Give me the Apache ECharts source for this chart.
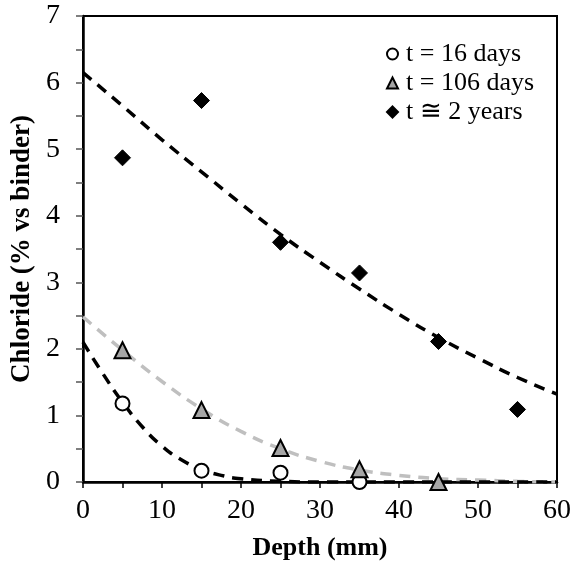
<!DOCTYPE html>
<html>
<head>
<meta charset="utf-8">
<script src="https://cdn.jsdelivr.net/npm/echarts@6/dist/echarts.min.js"></script>
<style>html,body{margin:0;padding:0;background:#fff}#c{width:573px;height:564px}</style>
</head>
<body>
<div id="c"></div>
<script>
// Measured points
const depth16 = [5, 15, 25, 35];
const chl16 = [1.18, 0.17, 0.14, 0.0];
const depth106 = [5, 15, 25, 35, 45];
const chl106 = [1.98, 1.08, 0.51, 0.19, 0.0];
const depth2y = [5, 15, 25, 35, 45, 55];
const chl2y = [4.87, 5.73, 3.6, 3.14, 2.11, 1.09];

// Trend curves
const fit16X = [0, 2.5, 5, 7.5, 10, 12.5, 15, 17.5, 20, 25, 30, 40, 50, 60];
const fit16Y = [2.1, 1.63, 1.2, 0.83, 0.54, 0.33, 0.19, 0.1, 0.05, 0.01, 0.0, 0.0, 0.0, 0.0];
const fit106X = [0, 5, 10, 15, 20, 25, 30, 35, 40, 45, 50, 55, 60];
const fit106Y = [2.48, 1.98, 1.51, 1.1, 0.76, 0.5, 0.31, 0.18, 0.1, 0.05, 0.03, 0.01, 0.0];
const fit2yX = [0, 5, 10, 15, 20, 25, 30, 35, 40, 45, 50, 55, 60];
const fit2yY = [6.15, 5.65, 5.14, 4.66, 4.18, 3.72, 3.3, 2.9, 2.52, 2.17, 1.86, 1.57, 1.32];

const legendNames = ['t = 16 days', 't = 106 days', 't \u2245 2 years'];
const xTicks = [0, 10, 20, 30, 40, 50, 60];
const yTicks = [0, 1, 2, 3, 4, 5, 6, 7];

const zip = (a, b) => a.map((v, i) => [v, b[i]]);
const FONT = '"Liberation Serif", "Times New Roman", serif';

const chart = echarts.init(document.getElementById('c'));
const dashLine = (name, xs, ys, color) => ({
  name: name, type: 'line', data: zip(xs, ys), smooth: true, showSymbol: false,
  symbol: 'none', silent: true, z: 1,
  lineStyle: { color: color, width: 3.5, type: [11, 8] }
});
chart.setOption({
  animation: false,
  grid: { left: 83, right: 16, top: 16, bottom: 82, outerBoundsMode: 'none', containLabel: false,
          show: true, borderColor: '#000', borderWidth: 2, backgroundColor: 'transparent' },
  legend: {
    orient: 'vertical', left: 381, top: 36, itemGap: 3,
    itemWidth: 11, itemHeight: 11, itemStyle: { borderWidth: 2 },
    textStyle: { fontFamily: FONT, fontSize: 26, color: '#000', padding: [0, 0, 0, 3] },
    data: legendNames
  },
  xAxis: {
    type: 'value', min: 0, max: 60, interval: 5,
    name: 'Depth (mm)', nameLocation: 'middle', nameGap: 53,
    nameTextStyle: { fontFamily: FONT, fontSize: 26, fontWeight: 'bold', color: '#000' },
    axisLine: { onZero: false, lineStyle: { color: '#000', width: 2.5 } },
    axisTick: { show: true, length: 6, lineStyle: { color: '#000', width: 1.5 } },
    axisLabel: {
      fontFamily: FONT, fontSize: 28, color: '#000', margin: 15,
      formatter: v => xTicks.includes(v) ? String(v) : ''
    },
    splitLine: { show: false }
  },
  yAxis: {
    type: 'value', min: 0, max: 7, interval: 0.5,
    name: 'Chloride (% vs binder)', nameLocation: 'middle', nameGap: 47,
    nameTextStyle: { fontFamily: FONT, fontSize: 27, fontWeight: 'bold', color: '#000' },
    axisLine: { onZero: false, lineStyle: { color: '#000', width: 2.5 } },
    axisTick: { show: true, length: 7, lineStyle: { color: '#555', width: 1.5 } },
    axisLabel: {
      fontFamily: FONT, fontSize: 28, color: '#000', margin: 23,
      formatter: v => yTicks.includes(v) ? String(v) : ''
    },
    splitLine: { show: false }
  },
  series: [
    dashLine('fit2y', fit2yX, fit2yY, '#000'),
    dashLine('fit106', fit106X, fit106Y, '#bfbfbf'),
    dashLine('fit16', fit16X, fit16Y, '#000'),
    {
      name: legendNames[0], type: 'scatter', data: zip(depth16, chl16), z: 5,
      symbol: 'circle', symbolSize: 14,
      itemStyle: { color: '#fff', borderColor: '#000', borderWidth: 2, opacity: 1 }
    },
    {
      name: legendNames[1], type: 'scatter', data: zip(depth106, chl106), z: 5,
      symbol: 'triangle', symbolSize: 16,
      itemStyle: { color: '#a6a6a6', borderColor: '#000', borderWidth: 2, opacity: 1 }
    },
    {
      name: legendNames[2], type: 'scatter', data: zip(depth2y, chl2y), z: 5,
      symbol: 'diamond', symbolSize: 16,
      itemStyle: { color: '#000', borderColor: '#000', borderWidth: 1, opacity: 1 }
    }
  ]
});
</script>
</body>
</html>
